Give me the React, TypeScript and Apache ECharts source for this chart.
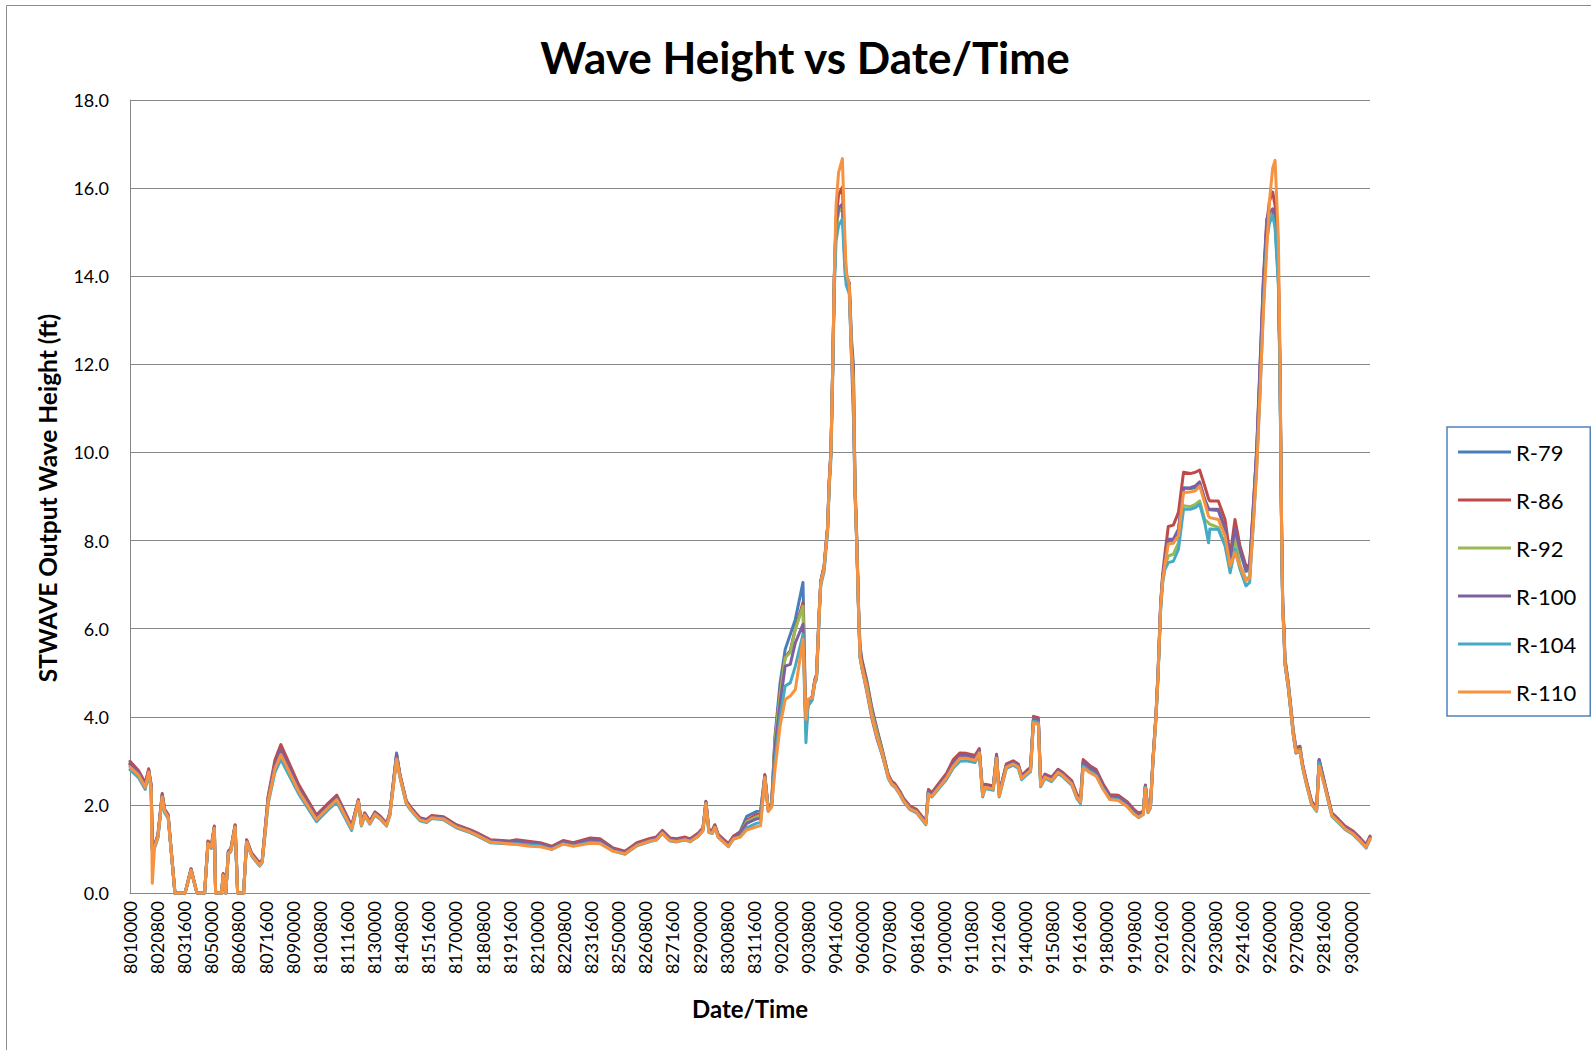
import React, { useEffect, useRef } from 'react';
import * as echarts from 'echarts';

// Hours since 8/01 00:00
const HOURS = [
  0, 10, 18, 22, 25, 26.3, 29, 33, 38, 41,
  45, 53, 65, 72, 79, 88, 92, 96, 99.5, 101,
  108, 110, 113, 116, 119, 124, 127, 134, 137.6, 143.5,
  153, 156, 163, 171, 178, 199, 220, 234, 244, 261.5,
  269.4, 273, 277, 283, 289, 295, 302.7, 306.6, 314.5, 318.5,
  326, 332, 342, 350, 356, 370, 385, 401, 409, 425,
  448, 456, 472, 484, 497.5, 511, 523, 543, 554.5, 570,
  584, 598, 613.5, 621, 628, 637, 645, 655, 661, 670.5,
  676, 679.5, 683, 687, 690, 694, 706, 712, 720, 727.6,
  739, 744, 749, 753, 757, 761, 767, 773, 779, 785,
  794, 797.5, 800, 805, 808, 810, 813, 815, 819, 821,
  823, 825, 827, 829, 831, 833, 836, 840.5, 843.5, 845,
  848.6, 851.3, 853.5, 855.4, 857.4, 860, 861.4, 863.6, 869.5, 875.4,
  881.3, 887.2, 894.6, 898.6, 902.5, 908.4, 912.4, 920.3, 928, 934,
  939, 942, 946, 954, 963.5, 971.4, 979.3, 987, 997, 1002,
  1006, 1009, 1018.5, 1022.4, 1025.5, 1034, 1042, 1048, 1052, 1058,
  1062.5, 1066, 1071.7, 1074.4, 1079.5, 1087.4, 1095, 1101, 1111, 1117,
  1121.5, 1124.6, 1132.5, 1140, 1148, 1156, 1166, 1176, 1184, 1190,
  1195.5, 1198, 1201, 1204, 1207, 1210.5, 1213, 1216, 1218.3, 1221,
  1225, 1231, 1237, 1243, 1251, 1257, 1262, 1268, 1272.5, 1274,
  1284, 1292, 1298, 1303.7, 1309.6, 1316.7, 1321, 1325.4, 1329.3, 1333.2,
  1337.2, 1341.2, 1344.3, 1348.2, 1351, 1354.9, 1356.8, 1358.8, 1360, 1361.5,
  1362.7, 1366.6, 1370.5, 1372.4, 1375.6, 1380.4, 1383.5, 1388, 1394, 1400,
  1403, 1410, 1418, 1426, 1433.5, 1443.4, 1451.3, 1458.4, 1463,
];

const R79 = [
  2.94, 2.74, 2.46, 2.79, 2.43, 1.00, 1.08, 1.31, 2.23, 1.88,
  1.76, 0, 0, 0.54, 0, 0, 1.16, 1.07, 1.50, 0,
  0, 0.43, 0, 0.93, 0.99, 1.53, 0, 0, 1.19, 0.89,
  0.66, 0.74, 2.16, 2.93, 3.28, 2.40, 1.73, 2.00, 2.18, 1.50,
  2.10, 1.57, 1.80, 1.61, 1.82, 1.73, 1.57, 1.80, 3.18, 2.67,
  2.07, 1.91, 1.69, 1.65, 1.74, 1.71, 1.53, 1.42, 1.35, 1.19,
  1.16, 1.19, 1.15, 1.12, 1.04, 1.17, 1.12, 1.23, 1.21, 1.00,
  0.93, 1.12, 1.22, 1.25, 1.40, 1.23, 1.21, 1.25, 1.21, 1.34,
  1.46, 2.08, 1.42, 1.40, 1.53, 1.31, 1.10, 1.28, 1.40, 1.74,
  1.85, 1.88, 2.66, 1.91, 2.03, 3.56, 4.77, 5.53, 5.87, 6.21,
  7.05, 3.75, 4.34, 4.45, 4.83, 4.94, 6.31, 7.07, 7.41, 7.87,
  8.28, 9.34, 10.02, 11.84, 13.96, 15.10, 15.50, 15.60, 14.40, 14.00,
  13.85, 12.57, 11.97, 9.30, 8.10, 6.20, 5.60, 5.30, 4.80, 4.20,
  3.72, 3.28, 2.68, 2.52, 2.46, 2.29, 2.14, 1.95, 1.88, 1.73,
  1.60, 2.32, 2.25, 2.45, 2.68, 2.96, 3.13, 3.13, 3.08, 3.25,
  2.25, 2.44, 2.40, 3.12, 2.25, 2.90, 2.97, 2.90, 2.64, 2.75,
  2.82, 3.97, 3.94, 2.48, 2.67, 2.60, 2.78, 2.70, 2.52, 2.22,
  2.10, 2.98, 2.85, 2.76, 2.45, 2.20, 2.19, 2.05, 1.88, 1.78,
  1.84, 2.44, 1.88, 1.99, 3.05, 4.03, 5.02, 6.53, 7.14, 7.50,
  8.00, 8.00, 8.22, 9.20, 9.18, 9.20, 9.30, 8.90, 8.70, 8.70,
  8.68, 8.25, 7.55, 8.20, 7.75, 7.30, 7.35, 8.70, 10.00, 11.90,
  13.80, 15.10, 15.40, 15.50, 15.25, 14.00, 11.90, 8.10, 6.58, 5.97,
  5.30, 4.77, 4.06, 3.70, 3.30, 3.33, 2.90, 2.52, 2.07, 1.91,
  3.00, 2.44, 1.80, 1.65, 1.50, 1.38, 1.23, 1.08, 1.27,
];

const R86 = [
  2.99, 2.78, 2.50, 2.82, 2.46, 1.02, 1.10, 1.33, 2.26, 1.90,
  1.78, 0, 0, 0.55, 0, 0, 1.18, 1.09, 1.52, 0,
  0, 0.44, 0, 0.95, 1.01, 1.55, 0, 0, 1.21, 0.91,
  0.68, 0.76, 2.20, 3.02, 3.37, 2.46, 1.77, 2.04, 2.22, 1.53,
  2.12, 1.59, 1.82, 1.63, 1.84, 1.75, 1.59, 1.82, 3.14, 2.69,
  2.09, 1.93, 1.71, 1.67, 1.76, 1.73, 1.55, 1.44, 1.37, 1.21,
  1.18, 1.21, 1.17, 1.14, 1.06, 1.19, 1.14, 1.25, 1.23, 1.02,
  0.95, 1.14, 1.24, 1.27, 1.42, 1.25, 1.23, 1.27, 1.23, 1.36,
  1.48, 2.07, 1.44, 1.42, 1.55, 1.33, 1.12, 1.29, 1.38, 1.65,
  1.78, 1.80, 2.69, 1.92, 2.02, 3.50, 4.60, 5.35, 5.50, 6.00,
  6.59, 3.70, 4.35, 4.47, 4.85, 4.96, 6.33, 7.09, 7.43, 7.89,
  8.30, 9.36, 10.05, 11.88, 14.00, 15.30, 15.85, 16.02, 14.60, 14.05,
  13.82, 12.45, 11.80, 9.25, 8.05, 6.18, 5.50, 5.25, 4.78, 4.15,
  3.70, 3.26, 2.69, 2.54, 2.48, 2.31, 2.16, 1.97, 1.90, 1.75,
  1.62, 2.35, 2.28, 2.48, 2.72, 3.03, 3.18, 3.17, 3.12, 3.28,
  2.28, 2.47, 2.43, 3.15, 2.28, 2.93, 3.00, 2.93, 2.67, 2.78,
  2.85, 4.01, 3.98, 2.51, 2.70, 2.63, 2.81, 2.73, 2.55, 2.25,
  2.13, 3.03, 2.89, 2.80, 2.48, 2.23, 2.22, 2.08, 1.91, 1.81,
  1.86, 2.45, 1.90, 2.01, 3.07, 4.06, 5.06, 6.58, 7.22, 7.69,
  8.32, 8.35, 8.64, 9.55, 9.52, 9.55, 9.60, 9.24, 8.95, 8.90,
  8.90, 8.48, 7.65, 8.48, 7.88, 7.42, 7.45, 8.80, 10.00, 11.80,
  13.80, 15.20, 15.70, 15.91, 15.60, 14.10, 11.95, 8.12, 6.60, 6.00,
  5.32, 4.76, 4.05, 3.68, 3.28, 3.30, 2.92, 2.54, 2.09, 1.93,
  3.02, 2.46, 1.82, 1.67, 1.52, 1.40, 1.25, 1.10, 1.29,
];

const R92 = [
  2.90, 2.70, 2.42, 2.76, 2.40, 0.99, 1.06, 1.29, 2.20, 1.86,
  1.74, 0, 0, 0.53, 0, 0, 1.14, 1.05, 1.48, 0,
  0, 0.42, 0, 0.91, 0.97, 1.51, 0, 0, 1.17, 0.87,
  0.64, 0.72, 2.12, 2.88, 3.20, 2.35, 1.70, 1.97, 2.15, 1.48,
  2.08, 1.55, 1.78, 1.59, 1.80, 1.71, 1.55, 1.78, 3.10, 2.65,
  2.05, 1.89, 1.67, 1.63, 1.72, 1.69, 1.51, 1.40, 1.33, 1.17,
  1.14, 1.16, 1.13, 1.10, 1.02, 1.15, 1.10, 1.19, 1.18, 0.98,
  0.91, 1.10, 1.20, 1.23, 1.38, 1.21, 1.19, 1.23, 1.19, 1.32,
  1.44, 2.05, 1.40, 1.38, 1.51, 1.29, 1.08, 1.25, 1.34, 1.62,
  1.73, 1.76, 2.64, 1.89, 2.00, 3.45, 4.50, 5.34, 5.46, 5.98,
  6.51, 3.65, 4.32, 4.43, 4.81, 4.92, 6.29, 7.05, 7.39, 7.85,
  8.26, 9.32, 10.00, 11.82, 13.94, 15.10, 15.45, 15.57, 14.30, 13.95,
  13.78, 12.30, 11.60, 9.20, 8.00, 6.14, 5.38, 5.15, 4.70, 4.09,
  3.64, 3.22, 2.65, 2.50, 2.44, 2.27, 2.12, 1.93, 1.86, 1.71,
  1.58, 2.30, 2.23, 2.42, 2.65, 2.92, 3.10, 3.10, 3.05, 3.22,
  2.23, 2.42, 2.38, 3.10, 2.23, 2.88, 2.95, 2.88, 2.62, 2.73,
  2.80, 3.95, 3.92, 2.46, 2.65, 2.58, 2.76, 2.68, 2.50, 2.20,
  2.08, 2.95, 2.82, 2.73, 2.42, 2.18, 2.17, 2.03, 1.86, 1.76,
  1.82, 2.42, 1.86, 1.97, 3.03, 4.01, 5.00, 6.51, 7.10, 7.40,
  7.65, 7.69, 7.95, 8.79, 8.77, 8.82, 8.90, 8.48, 8.40, 8.37,
  8.30, 7.92, 7.35, 8.06, 7.45, 7.12, 7.18, 8.50, 9.80, 11.50,
  13.50, 14.90, 15.30, 15.45, 15.20, 13.90, 11.82, 8.03, 6.51, 5.90,
  5.23, 4.70, 4.00, 3.64, 3.22, 3.26, 2.88, 2.50, 2.05, 1.89,
  2.98, 2.42, 1.78, 1.63, 1.48, 1.36, 1.21, 1.06, 1.25,
];

const R100 = [
  2.93, 2.73, 2.45, 2.78, 2.42, 1.00, 1.07, 1.30, 2.22, 1.87,
  1.75, 0, 0, 0.54, 0, 0, 1.15, 1.06, 1.49, 0,
  0, 0.43, 0, 0.92, 0.98, 1.52, 0, 0, 1.18, 0.88,
  0.65, 0.73, 2.14, 2.91, 3.25, 2.38, 1.72, 1.99, 2.17, 1.50,
  2.10, 1.57, 1.80, 1.61, 1.82, 1.73, 1.57, 1.80, 3.12, 2.67,
  2.07, 1.91, 1.69, 1.65, 1.74, 1.71, 1.53, 1.42, 1.35, 1.19,
  1.16, 1.18, 1.14, 1.11, 1.03, 1.16, 1.11, 1.21, 1.20, 0.99,
  0.92, 1.11, 1.21, 1.24, 1.39, 1.22, 1.20, 1.24, 1.20, 1.33,
  1.45, 2.06, 1.41, 1.39, 1.52, 1.30, 1.09, 1.26, 1.35, 1.58,
  1.68, 1.70, 2.65, 1.89, 1.99, 3.30, 4.30, 5.15, 5.19, 5.68,
  6.10, 3.70, 4.33, 4.44, 4.82, 4.93, 6.30, 7.06, 7.40, 7.86,
  8.27, 9.33, 10.01, 11.83, 13.95, 15.20, 15.55, 15.64, 14.30, 13.95,
  13.75, 12.10, 10.83, 9.10, 7.95, 6.10, 5.35, 5.10, 4.55, 3.95,
  3.50, 3.15, 2.64, 2.51, 2.45, 2.28, 2.13, 1.94, 1.87, 1.72,
  1.59, 2.31, 2.24, 2.44, 2.67, 2.95, 3.12, 3.12, 3.07, 3.24,
  2.25, 2.44, 2.40, 3.12, 2.25, 2.90, 2.97, 2.90, 2.64, 2.75,
  2.82, 3.96, 3.93, 2.48, 2.67, 2.60, 2.78, 2.70, 2.52, 2.22,
  2.10, 2.97, 2.84, 2.75, 2.44, 2.19, 2.18, 2.04, 1.87, 1.77,
  1.83, 2.43, 1.87, 1.98, 3.04, 4.02, 5.02, 6.53, 7.15, 7.55,
  8.03, 8.03, 8.26, 9.18, 9.20, 9.24, 9.33, 8.94, 8.72, 8.71,
  8.71, 8.29, 7.60, 8.26, 7.80, 7.35, 7.40, 8.79, 10.08, 11.97,
  13.94, 15.30, 15.45, 15.53, 15.30, 14.00, 11.85, 8.05, 6.52, 5.88,
  5.20, 4.65, 3.97, 3.60, 3.18, 3.24, 2.89, 2.51, 2.06, 1.90,
  3.03, 2.44, 1.79, 1.64, 1.49, 1.37, 1.22, 1.07, 1.26,
];

const R104 = [
  2.80, 2.62, 2.35, 2.70, 2.34, 0.97, 1.02, 1.25, 2.14, 1.81,
  1.70, 0, 0, 0.50, 0, 0, 1.10, 1.01, 1.44, 0,
  0, 0.40, 0, 0.88, 0.94, 1.47, 0, 0, 1.13, 0.84,
  0.61, 0.69, 2.02, 2.74, 3.03, 2.25, 1.62, 1.89, 2.06, 1.42,
  2.05, 1.52, 1.75, 1.56, 1.77, 1.68, 1.52, 1.75, 3.05, 2.62,
  2.02, 1.86, 1.64, 1.60, 1.69, 1.66, 1.48, 1.37, 1.30, 1.14,
  1.11, 1.12, 1.09, 1.07, 0.99, 1.12, 1.07, 1.15, 1.14, 0.95,
  0.88, 1.07, 1.17, 1.20, 1.35, 1.18, 1.16, 1.20, 1.16, 1.29,
  1.41, 2.02, 1.37, 1.35, 1.48, 1.26, 1.05, 1.22, 1.28, 1.48,
  1.58, 1.60, 2.60, 1.86, 1.96, 3.00, 4.00, 4.70, 4.77, 5.15,
  5.87, 3.41, 4.25, 4.38, 4.76, 4.85, 6.20, 6.98, 7.30, 7.76,
  8.15, 9.20, 9.85, 11.60, 13.70, 14.80, 15.15, 15.30, 14.10, 13.80,
  13.60, 12.20, 11.20, 9.10, 7.95, 6.08, 5.33, 5.10, 4.62, 4.02,
  3.58, 3.17, 2.60, 2.46, 2.40, 2.23, 2.08, 1.89, 1.82, 1.67,
  1.55, 2.26, 2.18, 2.36, 2.58, 2.84, 2.99, 3.00, 2.96, 3.15,
  2.18, 2.37, 2.33, 3.05, 2.18, 2.83, 2.90, 2.83, 2.57, 2.68,
  2.75, 3.90, 3.87, 2.41, 2.60, 2.53, 2.71, 2.63, 2.45, 2.15,
  2.03, 2.88, 2.75, 2.67, 2.37, 2.14, 2.12, 1.98, 1.81, 1.71,
  1.78, 2.40, 1.82, 1.93, 2.98, 3.95, 4.93, 6.42, 7.02, 7.34,
  7.50, 7.53, 7.80, 8.71, 8.71, 8.75, 8.83, 8.41, 7.95, 8.26,
  8.25, 7.88, 7.27, 7.80, 7.35, 6.97, 7.05, 8.40, 9.70, 11.30,
  13.30, 14.80, 15.20, 15.38, 15.10, 13.80, 11.70, 7.95, 6.45, 5.85,
  5.18, 4.65, 3.95, 3.60, 3.18, 3.21, 2.84, 2.46, 2.01, 1.85,
  2.95, 2.38, 1.74, 1.59, 1.44, 1.32, 1.17, 1.02, 1.21,
];

const R110 = [
  2.86, 2.68, 2.40, 2.75, 2.38, 0.22, 1.05, 1.28, 2.18, 1.85,
  1.73, 0, 0, 0.52, 0, 0, 1.13, 1.04, 1.47, 0,
  0, 0.40, 0, 0.90, 0.96, 1.50, 0, 0, 1.16, 0.86,
  0.63, 0.71, 2.08, 2.82, 3.14, 2.31, 1.67, 1.94, 2.12, 1.46,
  2.08, 1.54, 1.77, 1.58, 1.79, 1.70, 1.54, 1.77, 3.03, 2.64,
  2.04, 1.88, 1.66, 1.62, 1.71, 1.68, 1.50, 1.39, 1.32, 1.16,
  1.12, 1.10, 1.06, 1.05, 0.99, 1.11, 1.06, 1.13, 1.12, 0.95,
  0.89, 1.08, 1.18, 1.21, 1.36, 1.19, 1.17, 1.21, 1.17, 1.30,
  1.42, 2.03, 1.38, 1.36, 1.49, 1.27, 1.06, 1.23, 1.27, 1.43,
  1.50, 1.53, 2.62, 1.85, 1.95, 2.80, 3.79, 4.39, 4.47, 4.62,
  5.76, 3.94, 4.40, 4.43, 4.80, 4.91, 6.28, 7.04, 7.38, 7.84,
  8.25, 9.31, 9.99, 11.85, 14.05, 15.60, 16.35, 16.67, 14.85, 14.10,
  13.79, 12.20, 11.40, 9.15, 7.97, 6.10, 5.36, 5.12, 4.60, 4.00,
  3.55, 3.18, 2.63, 2.48, 2.42, 2.25, 2.10, 1.91, 1.84, 1.69,
  1.57, 2.24, 2.20, 2.39, 2.62, 2.88, 3.06, 3.06, 3.01, 3.18,
  2.21, 2.40, 2.36, 3.06, 2.21, 2.86, 2.93, 2.86, 2.60, 2.71,
  2.78, 3.86, 3.83, 2.44, 2.63, 2.56, 2.74, 2.66, 2.48, 2.18,
  2.06, 2.84, 2.73, 2.65, 2.36, 2.12, 2.10, 1.97, 1.80, 1.72,
  1.79, 2.38, 1.84, 1.95, 3.00, 3.98, 4.97, 6.48, 7.08, 7.45,
  7.92, 7.94, 8.11, 9.09, 9.10, 9.13, 9.24, 8.86, 8.55, 8.52,
  8.48, 8.11, 7.42, 7.73, 7.42, 7.09, 7.15, 8.40, 9.60, 11.36,
  13.18, 14.62, 15.70, 16.45, 16.63, 14.85, 12.20, 8.10, 6.50, 5.88,
  5.22, 4.68, 3.98, 3.62, 3.20, 3.23, 2.86, 2.48, 2.03, 1.87,
  2.88, 2.40, 1.76, 1.61, 1.46, 1.34, 1.19, 1.04, 1.23,
];

const SERIES_NAMES = ['R-79', 'R-86', 'R-92', 'R-100', 'R-104', 'R-110'];
const SERIES_COLORS = ['#4A7EBB', '#BE4B48', '#98B954', '#7D60A0', '#46AAC5', '#F69240'];

const X_TICK_LABELS = [
  '8010000', '8020800', '8031600', '8050000', '8060800', '8071600', '8090000', '8100800',
  '8111600', '8130000', '8140800', '8151600', '8170000', '8180800', '8191600', '8210000',
  '8220800', '8231600', '8250000', '8260800', '8271600', '8290000', '8300800', '8311600',
  '9020000', '9030800', '9041600', '9060000', '9070800', '9081600', '9100000', '9110800',
  '9121600', '9140000', '9150800', '9161600', '9180000', '9190800', '9201600', '9220000',
  '9230800', '9241600', '9260000', '9270800', '9281600', '9300000',
];
const X_TICK_STEP = 32;
const X_LAST = 1463;

const FONT = 'Lato, "Open Sans", sans-serif';
const GRID_GRAY = '#868686';

export default function App() {
  const ref = useRef<HTMLDivElement>(null);

  useEffect(() => {
    if (!ref.current) return;
    const chart = echarts.init(ref.current, null, { renderer: 'svg' });
    const values = [R79, R86, R92, R100, R104, R110];
    const series = SERIES_NAMES.map((name, i) => ({
      name,
      type: 'line',
      data: HOURS.map((h, j) => [h, values[i][j]]),
      showSymbol: false,
      symbol: 'none',
      clip: false,
      z: 2 + i,
      lineStyle: { color: SERIES_COLORS[i], width: 3, join: 'round', cap: 'round' },
      itemStyle: { color: SERIES_COLORS[i] },
      emphasis: { disabled: true },
    }));

    chart.setOption({
      animation: false,
      backgroundColor: '#ffffff',
      grid: { left: 130, right: 221, top: 100, bottom: 157, containLabel: false },
      xAxis: {
        type: 'value',
        min: 0,
        max: X_LAST,
        interval: X_TICK_STEP,
        axisLine: { show: true, lineStyle: { color: GRID_GRAY, width: 1 } },
        axisTick: { show: false },
        splitLine: { show: false },
        axisLabel: {
          rotate: 90,
          margin: 8,
          color: '#000',
          fontFamily: FONT,
          fontSize: 18,
          showMaxLabel: false,
          formatter: (v: number) => {
            const i = Math.round(v / X_TICK_STEP);
            if (Math.abs(v - i * X_TICK_STEP) > 1e-6) return '';
            return X_TICK_LABELS[i] ?? '';
          },
        },
      },
      yAxis: {
        type: 'value',
        min: 0,
        max: 18,
        interval: 2,
        axisLine: { show: true, lineStyle: { color: GRID_GRAY, width: 1 } },
        axisTick: { show: false },
        splitLine: { show: true, lineStyle: { color: GRID_GRAY, width: 1 } },
        axisLabel: {
          margin: 21,
          color: '#000',
          fontFamily: FONT,
          fontSize: 18,
          formatter: (v: number) => v.toFixed(1),
        },
      },
      legend: {
        show: true,
        orient: 'vertical',
        left: 1447,
        top: 427,
        data: SERIES_NAMES,
        icon: 'rect',
        itemWidth: 53,
        itemHeight: 3,
        itemGap: 26,
        padding: [14, 14, 13, 11],
        borderColor: '#4F81BD',
        borderWidth: 1.5,
        backgroundColor: '#fff',
        selectedMode: false,
        textStyle: { color: '#000', fontFamily: FONT, fontSize: 22, lineHeight: 22 },
      },
      graphic: [
        {
          type: 'rect',
          silent: true,
          shape: { x: 6.5, y: 5.5, width: 1700, height: 1200 },
          style: { fill: 'none', stroke: '#8c8c8c', lineWidth: 1 },
          z: -10,
        },
        {
          type: 'text',
          x: 805,
          y: 57,
          style: {
            text: 'Wave Height vs Date/Time',
            fontFamily: FONT,
            fontWeight: 'bold',
            fontSize: 44,
            fill: '#000',
            align: 'center',
            verticalAlign: 'middle',
          },
        },
        {
          type: 'text',
          x: 47,
          y: 498,
          rotation: Math.PI / 2,
          style: {
            text: 'STWAVE Output Wave Height (ft)',
            fontFamily: FONT,
            fontWeight: 'bold',
            fontSize: 24.5,
            fill: '#000',
            align: 'center',
            verticalAlign: 'middle',
          },
        },
        {
          type: 'text',
          x: 750,
          y: 1008,
          style: {
            text: 'Date/Time',
            fontFamily: FONT,
            fontWeight: 'bold',
            fontSize: 24,
            fill: '#000',
            align: 'center',
            verticalAlign: 'middle',
          },
        },
      ],
      series,
    });

    return () => chart.dispose();
  }, []);

  return (
    <div
      ref={ref}
      style={{ position: 'fixed', left: 0, top: 0, width: 1591, height: 1050, background: '#fff' }}
    />
  );
}
